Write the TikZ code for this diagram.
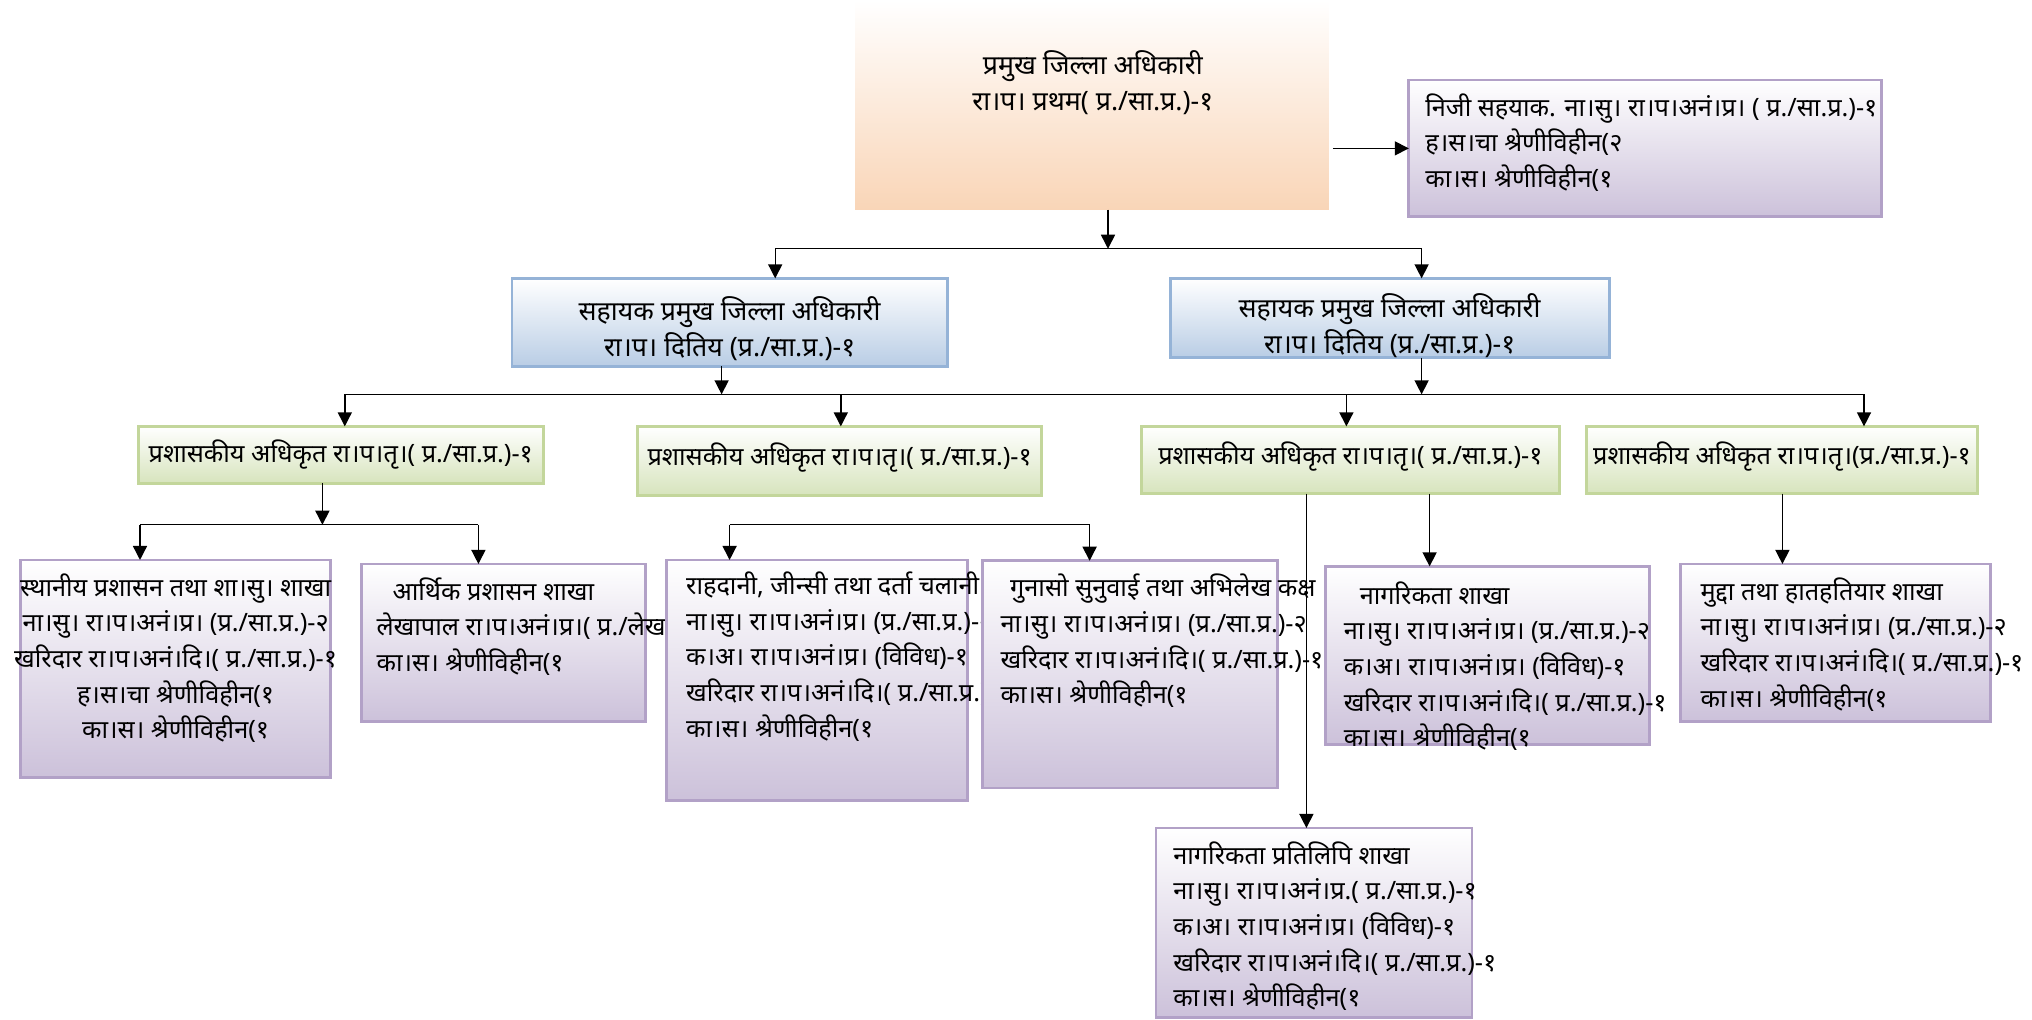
\documentclass[tikz,border=0pt]{standalone}
\usepackage{fontspec}
\newfontfamily\deva[Script=Devanagari]{Noto Sans}
\usetikzlibrary{arrows.meta}
\definecolor{peach}{HTML}{F9D5B7}
\definecolor{lav}{HTML}{CCC1DA}
\definecolor{lavline}{HTML}{B2A1C7}
\definecolor{blu}{HTML}{B9CDE5}
\definecolor{bluline}{HTML}{95B3D7}
\definecolor{grn}{HTML}{D7E4BD}
\definecolor{grnline}{HTML}{C3D69B}
\begin{document}
\begin{tikzpicture}[
  every node/.style={font=\deva\fontsize{9.5}{12.7}\selectfont},
  small/.style={font=\deva\fontsize{9}{12.7}\selectfont},
  arr/.style={-{Triangle[length=5pt,width=5pt]},line width=0.5pt},
  link/.style={line width=0.5pt},
  boxtop/.style={shade,top color=white,bottom color=peach,anchor=north west,inner sep=0pt,outer sep=0pt},
  boxlav/.style={draw=lavline,line width=1pt,shade,top color=white,bottom color=lav,anchor=north west,inner sep=0pt,outer sep=0pt},
  boxblu/.style={draw=bluline,line width=1pt,shade,top color=white,bottom color=blu,anchor=north west,inner sep=0pt,outer sep=0pt},
  boxgrn/.style={draw=grnline,line width=1pt,shade,top color=white,bottom color=grn,anchor=north west,inner sep=0pt,outer sep=0pt},
  txt/.style={small,anchor=north west,inner sep=0pt,align=left},
  ctxt/.style={small,anchor=north,inner sep=0pt,align=center}
]
\useasboundingbox (0,0) rectangle (25.4,12.74);

% Chief District Officer
\node[boxtop,minimum width=5.92cm,minimum height=2.62cm] (cdo) at (10.69,12.74) {};
\node[align=center,inner sep=0pt] (cdoT) at (13.66,11.71) {प्रमुख जिल्ला अधिकारी\\रा।प। प्रथम( प्र./सा.प्र.)-१};

% Private assistant
\node[boxlav,minimum width=5.91cm,minimum height=1.71cm] (niji) at (17.61,11.74) {};
\node[txt] (nijiT) at ([xshift=0.2cm,yshift=-0.16cm]niji.north west) {निजी सहयाक. ना।सु। रा।प।अनं।प्र। ( प्र./सा.प्र.)-१\\ह।स।चा श्रेणीविहीन(२\\का।स। श्रेणीविहीन(१};

% Assistant CDOs
\node[boxblu,minimum width=5.44cm,minimum height=1.10cm] (acdoL) at (6.40,9.26) {};
\node[align=center,inner sep=0pt] (acdoLT) at (9.12,8.63) {सहायक प्रमुख जिल्ला अधिकारी\\रा।प। दितिय (प्र./सा.प्र.)-१};
\node[boxblu,minimum width=5.49cm,minimum height=0.99cm] (acdoR) at (14.63,9.26) {};
\node[align=center,inner sep=0pt] (acdoRT) at (17.37,8.67) {सहायक प्रमुख जिल्ला अधिकारी\\रा।प। दितिय (प्र./सा.प्र.)-१};

% Administrative officers
\node[boxgrn,minimum width=5.06cm,minimum height=0.71cm] (paoA) at (1.73,7.41) {};
\node[small,inner sep=0pt] (paoAT) at (paoA.center) {प्रशासकीय अधिकृत रा।प।तृ।( प्र./सा.प्र.)-१};
\node[boxgrn,minimum width=5.05cm,minimum height=0.86cm] (paoB) at (7.97,7.41) {};
\node[small,inner sep=0pt] (paoBT) at ([yshift=0.04cm]paoB.center) {प्रशासकीय अधिकृत रा।प।तृ।( प्र./सा.प्र.)-१};
\node[boxgrn,minimum width=5.22cm,minimum height=0.84cm] (paoC) at (14.27,7.41) {};
\node[small,inner sep=0pt] (paoCT) at ([yshift=0.04cm]paoC.center) {प्रशासकीय अधिकृत रा।प।तृ।( प्र./सा.प्र.)-१};
\node[boxgrn,minimum width=4.89cm,minimum height=0.84cm] (paoD) at (19.83,7.41) {};
\node[small,inner sep=0pt] (paoDT) at ([yshift=0.04cm]paoD.center) {प्रशासकीय अधिकृत रा।प।तृ।(प्र./सा.प्र.)-१};

% Sections
\node[boxlav,minimum width=3.87cm,minimum height=2.72cm] (secA) at (0.26,5.74) {};
\node[ctxt] (secAT) at ([yshift=-0.16cm]secA.north) {स्थानीय प्रशासन तथा शा।सु। शाखा\\ना।सु। रा।प।अनं।प्र। (प्र./सा.प्र.)-२\\खरिदार रा।प।अनं।दि।( प्र./सा.प्र.)-१\\ह।स।चा श्रेणीविहीन(१\\का।स। श्रेणीविहीन(१};
\node[boxlav,minimum width=3.55cm,minimum height=1.97cm] (secB) at (4.52,5.69) {};
\node[txt] (secBT) at ([xshift=0.18cm,yshift=-0.16cm]secB.north west) {\hspace{0.2cm}आर्थिक प्रशासन शाखा\\लेखापाल रा।प।अनं।प्र।( प्र./लेखा)-१\\का।स। श्रेणीविहीन(१};
\node[boxlav,minimum width=3.76cm,minimum height=3.01cm] (secC) at (8.33,5.74) {};
\node[txt] (secCT) at ([xshift=0.24cm,yshift=-0.14cm]secC.north west) {राहदानी, जीन्सी तथा दर्ता चलानी\\ना।सु। रा।प।अनं।प्र। (प्र./सा.प्र.)-२\\क।अ। रा।प।अनं।प्र। (विविध)-१\\खरिदार रा।प।अनं।दि।( प्र./सा.प्र.)-१\\का।स। श्रेणीविहीन(१};
\node[boxlav,minimum width=3.69cm,minimum height=2.84cm] (secD) at (12.28,5.73) {};
\node[txt] (secDT) at ([xshift=0.22cm,yshift=-0.16cm]secD.north west) {\hspace{0.12cm}गुनासो सुनुवाई तथा अभिलेख कक्ष\\ना।सु। रा।प।अनं।प्र। (प्र./सा.प्र.)-२\\खरिदार रा।प।अनं।दि।( प्र./सा.प्र.)-१\\का।स। श्रेणीविहीन(१};
\node[boxlav,minimum width=4.05cm,minimum height=2.23cm] (secE) at (16.57,5.66) {};
\node[txt] (secET) at ([xshift=0.22cm,yshift=-0.18cm]secE.north west) {\hspace{0.2cm}नागरिकता शाखा\\ना।सु। रा।प।अनं।प्र। (प्र./सा.प्र.)-२\\क।अ। रा।प।अनं।प्र। (विविध)-१\\खरिदार रा।प।अनं।दि।( प्र./सा.प्र.)-१\\का।स। श्रेणीविहीन(१};
\node[boxlav,minimum width=3.87cm,minimum height=1.97cm] (secF) at (21.01,5.69) {};
\node[txt] (secFT) at ([xshift=0.24cm,yshift=-0.16cm]secF.north west) {मुद्दा तथा हातहतियार शाखा\\ना।सु। रा।प।अनं।प्र। (प्र./सा.प्र.)-२\\खरिदार रा।प।अनं।दि।( प्र./सा.प्र.)-१\\का।स। श्रेणीविहीन(१};
\node[boxlav,minimum width=3.95cm,minimum height=2.37cm] (secG) at (14.45,2.39) {};
\node[txt] (secGT) at ([xshift=0.21cm,yshift=-0.16cm]secG.north west) {नागरिकता प्रतिलिपि शाखा\\ना।सु। रा।प।अनं।प्र.( प्र./सा.प्र.)-१\\क।अ। रा।प।अनं।प्र। (विविध)-१\\खरिदार रा।प।अनं।दि।( प्र./सा.प्र.)-१\\का।स। श्रेणीविहीन(१};

% Connectors: top level
\draw[arr] ([xshift=0.05cm]cdo.east |- niji.west) -- (niji.west);
\coordinate (j0) at (13.85,9.63);
\coordinate (j1L) at (9.69,9.63);
\coordinate (j1R) at (17.77,9.63);
\draw[arr] (cdo.south -| j0) -- (j0);
\draw[link] (j1L) -- (j1R);
\draw[arr] (j1L) -- (acdoL.north -| j1L);
\draw[arr] (j1R) -- (acdoR.north -| j1R);

% Connectors: assistants to officers
\coordinate (j2L) at (9.02,7.81);
\coordinate (j2R) at (17.77,7.81);
\draw[arr] (acdoL.south -| j2L) -- (j2L);
\draw[arr] (acdoR.south -| j2R) -- (j2R);
\draw[link] (4.31,7.81) -- (23.30,7.81);
\foreach \b/\x in {paoA/4.31,paoB/10.51,paoC/16.83,paoD/23.30}
  \draw[arr] (\x,7.81) -- (\b.north -| \x,7.81);

% Connectors: officers to sections
\coordinate (j3) at (4.03,6.18);
\draw[arr] (paoA.south -| j3) -- (j3);
\draw[link] (1.75,6.18) -- (5.98,6.18);
\draw[arr] (1.75,6.18) -- (secA.north -| 1.75,6.18);
\draw[arr] (5.98,6.18) -- (secB.north -| 5.98,6.18);
\draw[link] (9.12,6.18) -- (13.62,6.18);
\draw[arr] (9.12,6.18) -- (secC.north -| 9.12,6.18);
\draw[arr] (13.62,6.18) -- (secD.north -| 13.62,6.18);
\coordinate (xG) at (16.33,0);
\coordinate (xE) at (17.87,0);
\coordinate (xF) at (22.28,0);
\draw[arr] (paoC.south -| xG) -- (secG.north -| xG);
\draw[arr] (paoC.south -| xE) -- (secE.north -| xE);
\draw[arr] (paoD.south -| xF) -- (secF.north -| xF);
\end{tikzpicture}
\end{document}
